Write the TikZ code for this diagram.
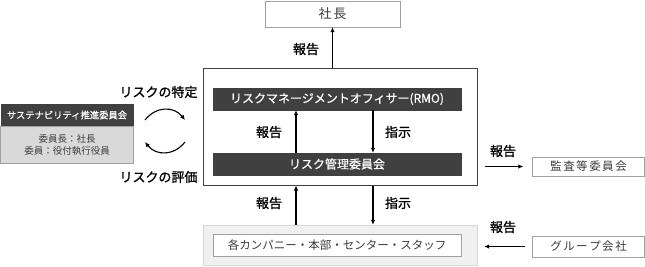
\documentclass[tikz,border=0pt]{standalone}
\usepackage{fontspec}
\setmainfont{Noto Sans CJK JP}
\newfontfamily\labfont{Noto Sans CJK JP}[FakeBold=1.2]
\newfontfamily\barfont{Noto Sans CJK JP}[FakeBold=0.7]
\usepackage{tikz}
\usetikzlibrary{
  arrows.meta,
  positioning,
  calc
}
\definecolor{barDark}{RGB}{64, 64, 64}
\definecolor{boxLine}{RGB}{160, 160, 160}
\definecolor{bodyGray}{RGB}{217, 217, 217}
\definecolor{paleGray}{RGB}{240, 240, 240}
\definecolor{textGray}{RGB}{60, 60, 60}

\begin{document}
\begin{tikzpicture}[x=1pt, y=-1pt]
  \useasboundingbox (0, 0) rectangle (645, 266);
  \tikzset{
    darkbar/.style={fill=barDark, draw=barDark, text=white, minimum width=248pt, minimum height=22pt, inner sep=0pt, font=\barfont\fontsize{12}{14}\selectfont},
    plainbox/.style={draw=boxLine, fill=white, text=textGray, inner sep=0pt, font=\fontsize{11.5}{13}\selectfont},
    arr/.style={line width=1.3pt, -{Latex[length=5pt, width=4.5pt]}},
    lab/.style={font=\labfont\fontsize{13}{15}\selectfont}
  }
  % president
  \node[plainbox, minimum width=135pt, minimum height=26pt, font=\fontsize{13}{15}\selectfont] (pres) at (332.5, 14) {社\hspace{2pt}長};
  % risk management frame
  \node[draw=barDark, line width=1pt, minimum width=274pt, minimum height=117pt, inner sep=0pt] (frame) at (340, 126.5) {};
  \node[darkbar] (rmo) at (337, 99) {リスクマネージメントオフィサー(RMO)};
  \node[darkbar] (rmcom) at (337, 164) {リスク管理委員会};
  % companies
  \node[draw=bodyGray, fill=paleGray, minimum width=274pt, minimum height=40pt, inner sep=0pt] (units) at (340, 245) {};
  \node[plainbox, minimum width=248pt, minimum height=22pt] (staff) at (337, 245) {各カンパニー・本部・センター・スタッフ};
  % right side
  \node[plainbox, minimum width=112pt, minimum height=19pt] (audit) at (588.5, 166.5) {監\hspace{1.5pt}査\hspace{1.5pt}等\hspace{1.5pt}委\hspace{1.5pt}員\hspace{1.5pt}会};
  \node[plainbox, minimum width=112pt, minimum height=21pt] (group) at (588.5, 246.5) {グ\hspace{1.5pt}ル\hspace{1.5pt}ー\hspace{1.5pt}プ\hspace{1.5pt}会\hspace{1.5pt}社};
  % sustainability committee
  \node[fill=barDark, text=white, minimum width=133pt, minimum height=22pt, inner sep=0pt, font=\barfont\fontsize{9.3}{11}\selectfont] (susHead) at (67, 115) {サステナビリティ推進委員会};
  \node[fill=bodyGray, draw=boxLine, minimum width=133pt, minimum height=37pt, inner sep=0pt, text=textGray, font=\fontsize{9.5}{11.5}\selectfont, align=center, below=0pt of susHead] (susBody) {委員長：社長\\委員：役付執行役員};

  % arrows
  \draw[arr] (frame.north -| pres.south) -- (pres.south);
  \node[lab] (repTop) at (306, 49) {報告};
  \draw[arr] ([xshift=-41pt]rmcom.north) -- ([xshift=-41pt]rmo.south);
  \draw[arr] ([xshift=36pt]rmo.south) -- ([xshift=36pt]rmcom.north);
  \node[lab] (repIn) at (269, 132) {報告};
  \node[lab] (ordIn) at (398, 132) {指示};
  \draw[arr] ([xshift=-44pt]units.north) -- ([xshift=-44pt]frame.south);
  \draw[arr] ([xshift=33pt]frame.south) -- ([xshift=33pt]units.north);
  \node[lab] (repLow) at (269, 203) {報告};
  \node[lab] (ordLow) at (398, 203) {指示};
  \draw[arr, shorten <=7pt, shorten >=9pt] (frame.east |- audit.west) -- (audit.west);
  \node[lab] (repAudit) at (503, 151) {報告};
  \draw[arr, shorten <=7pt, shorten >=7pt] (group.west) -- (units.east |- group.west);
  \node[lab] (repGroup) at (503, 227) {報告};

  % identify / evaluate cycle
  \coordinate (cycA) at (145, 120);
  \coordinate (cycB) at (185, 120);
  \coordinate (cycC) at (185, 142);
  \coordinate (cycD) at (145, 142);
  \draw[arr, line width=1.1pt] (cycA) .. controls (156, 106) and (174, 106) .. (cycB);
  \draw[arr, line width=1.1pt] (cycC) .. controls (174, 156) and (156, 156) .. (cycD);
  \node[lab, anchor=east] (identify) at (201, 92) {リスクの特定};
  \node[lab, anchor=east] (evaluate) at (201, 177) {リスクの評価};
\end{tikzpicture}
\end{document}
